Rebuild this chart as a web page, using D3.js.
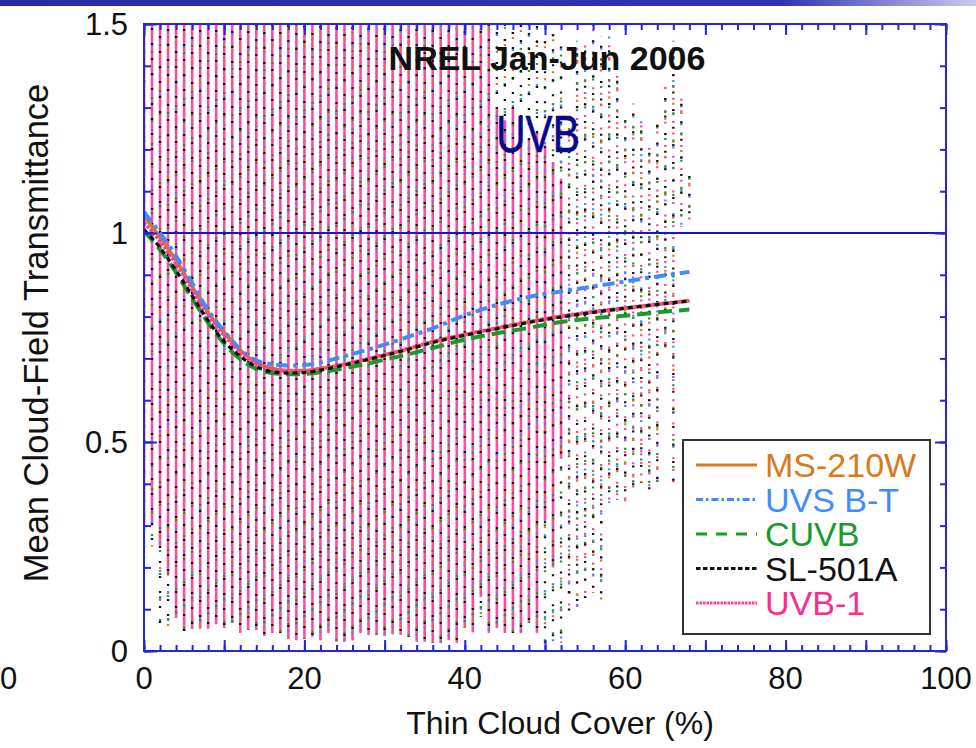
<!DOCTYPE html>
<html>
<head>
<meta charset="utf-8">
<script src="https://cdn.jsdelivr.net/npm/d3@7"></script>
<style>
  body { margin: 0; background: #fff; }
  svg { display: block; }
  text { font-family: "Liberation Sans", Arial, Helvetica, sans-serif; }
</style>
</head>
<body>
<svg id="chart" width="976" height="748"></svg>
<script>
// Thin-cloud-cover bins (percent) holding the individual transmittance samples
const coverBins = [0,1,2,3,4,5,6,7,8,9,10,11,12,13,14,15,16,17,18,19,20,21,22,23,24,25,26,27,28,29,30,
  31,32,33,34,35,36,37,38,39,40,41,42,43,44,45,46,47,48,49,50,51,52,53,54,55,56,57,58,59,60,
  61,62,63,64,65,66,67,68];
// Highest / lowest sample in each bin (all instruments)
const binTop = [1.5,1.5,1.5,1.5,1.5,1.5,1.5,1.5,1.5,1.5,1.5,1.5,1.5,1.5,1.5,1.5,1.5,1.5,1.5,1.5,1.5,
  1.5,1.5,1.5,1.5,1.5,1.5,1.5,1.5,1.5,1.5,1.5,1.5,1.5,1.5,1.5,1.5,1.5,1.5,1.5,1.5,
  1.5,1.5,1.5,1.5,1.5,1.5,1.5,1.5,1.5,1.48,1.48,1.47,1.30,1.46,1.45,1.5,1.47,1.47,1.38,1.27,
  1.31,1.28,1.21,1.26,1.35,1.46,1.33,1.14];
const binBottom = [0.22,0.25,0.06,0.057,0.079,0.048,0.053,0.053,0.053,0.064,0.055,0.067,0.043,0.05,0.05,
  0.036,0.043,0.043,0.029,0.026,0.029,0.034,0.026,0.043,0.022,0.022,0.026,0.043,0.038,0.038,0.036,
  0.04,0.038,0.034,0.022,0.022,0.019,0.019,0.026,0.019,0.055,0.045,0.082,0.043,0.055,0.043,0.043,
  0.043,0.067,0.043,0.019,0.022,0.019,0.09,0.093,0.122,0.139,0.117,0.354,0.361,0.357,
  0.39,0.402,0.385,0.395,0.72,0.404,1.015,1.03];
// Span where the UVB-1 samples are packed into a continuous band (null = scattered only)
const bandTop = [1.5,1.5,1.5,1.5,1.5,1.5,1.5,1.5,1.5,1.5,1.5,1.5,1.5,1.5,1.5,1.5,1.5,1.5,1.5,1.5,1.5,
  1.5,1.5,1.5,1.5,1.5,1.5,1.5,1.5,1.5,1.5,1.5,1.5,1.5,1.5,1.5,1.5,1.5,1.5,1.5,1.5,
  1.5,1.5,1.5,1.30,1.27,1.30,1.25,1.22,1.24,1.21,1.17,1.13,null,null,null,null,null,null,null,null,
  null,null,null,null,null,null,null,null];
const bandBottom = [0.30,0.30,0.25,0.18,0.079,0.048,0.053,0.053,0.053,0.064,0.055,0.067,0.043,0.05,0.05,
  0.036,0.043,0.043,0.029,0.026,0.029,0.034,0.026,0.043,0.022,0.022,0.026,0.043,0.038,0.038,0.036,
  0.04,0.038,0.034,0.022,0.022,0.019,0.019,0.026,0.019,0.055,0.045,0.13,0.043,0.055,0.043,0.043,
  0.043,0.067,0.043,0.31,0.20,0.46,null,null,null,null,null,null,null,null,
  null,null,null,null,null,null,null,null];

// Mean cloud-field transmittance per instrument
const meanCover = [0,2,4,6,8,10,12,14,16,18,20,22,24,27,30,33,36,40,44,48,52,56,60,64,68];
const ms210w = [1.04,0.99,0.935,0.872,0.81,0.762,0.72,0.69,0.676,0.671,0.671,0.676,0.682,0.694,0.708,0.723,0.74,0.757,0.772,0.787,0.80,0.811,0.82,0.829,0.838];
const uvsbt  = [1.05,1.0,0.945,0.88,0.815,0.765,0.722,0.695,0.686,0.683,0.684,0.69,0.70,0.716,0.733,0.752,0.772,0.803,0.828,0.847,0.86,0.872,0.884,0.896,0.907];
const cuvb   = [1.005,0.96,0.905,0.843,0.785,0.735,0.698,0.675,0.665,0.662,0.663,0.667,0.673,0.684,0.697,0.71,0.725,0.745,0.76,0.773,0.787,0.796,0.802,0.81,0.817];
const sl501a = [1.008,0.965,0.91,0.85,0.79,0.74,0.705,0.68,0.668,0.665,0.666,0.672,0.68,0.693,0.707,0.722,0.738,0.755,0.771,0.786,0.799,0.81,0.82,0.829,0.837];
const uvb1   = [1.025,0.98,0.925,0.865,0.80,0.755,0.715,0.688,0.675,0.67,0.67,0.675,0.682,0.695,0.709,0.724,0.74,0.757,0.773,0.788,0.801,0.812,0.821,0.83,0.838];

const seriesNames = ["MS-210W", "UVS B-T", "CUVB", "SL-501A", "UVB-1"];
const xTickLabels = [0, 20, 40, 60, 80, 100];
const yTickLabels = [0, 0.5, 1, 1.5];

const svg = d3.select("#chart");
const W = 976, H = 748;
const M = { left: 144, right: 946, top: 24, bottom: 651 };
const x = d3.scaleLinear().domain([0, 100]).range([M.left, M.right]);
const y = d3.scaleLinear().domain([0, 1.5]).range([M.bottom, M.top]);

const FRAME = "#2424e6";
const COL = { orange: "#d9781c", blue: "#3f8cff", green: "#1a9a28", black: "#111111", pink: "#ff3d9e" };

// slide header band
const defs = svg.append("defs");
const grad = defs.append("linearGradient").attr("id", "hdr").attr("x1", 0).attr("x2", 1);
grad.append("stop").attr("offset", "0%").attr("stop-color", "#2a2aa4");
grad.append("stop").attr("offset", "80%").attr("stop-color", "#3232b6");
grad.append("stop").attr("offset", "100%").attr("stop-color", "#c9c9ee");
svg.append("rect").attr("x", 0).attr("y", 0).attr("width", W).attr("height", 6).attr("fill", "url(#hdr)");

defs.append("clipPath").attr("id", "plotclip").append("rect")
  .attr("x", M.left).attr("y", M.top).attr("width", M.right - M.left).attr("height", M.bottom - M.top);

const plot = svg.append("g").attr("clip-path", "url(#plotclip)");

// individual samples: packed band plus scattered per-instrument dots
const bins = coverBins.map((c, i) => ({ c, i, top: binTop[i], bot: binBottom[i], bTop: bandTop[i], bBot: bandBottom[i] }));
plot.append("g").selectAll("line").data(bins.filter(d => d.bTop != null)).join("line")
  .attr("x1", d => x(d.c)).attr("x2", d => x(d.c))
  .attr("y1", d => y(d.bTop)).attr("y2", d => y(d.bBot))
  .attr("stroke", "#ff4aa6").attr("stroke-width", 2.6);

const dotStyles = [
  { color: COL.pink, gap: 6, shift: 1 },
  { color: COL.orange, gap: 30, shift: 5 },
  { color: COL.blue, gap: 26, shift: 9 },
  { color: COL.green, gap: 21, shift: 3 },
  { color: COL.black, gap: 13, shift: 0 }
];
dotStyles.forEach((s, k) => {
  plot.append("g").selectAll("line").data(bins).join("line")
    .attr("x1", d => x(d.c)).attr("x2", d => x(d.c))
    .attr("y1", d => y(d.top)).attr("y2", d => y(d.bot))
    .attr("stroke", s.color).attr("stroke-width", 2.3)
    .attr("stroke-dasharray", d => {
      const g = d.bTop != null ? s.gap : (k === 0 ? s.gap * 1.6 : s.gap * 1.2);
      return `2 ${g}`;
    })
    .attr("stroke-dashoffset", d => (d.i * 7 + s.shift * 3 + k) % 29)
    .attr("opacity", d => (k === 0 && d.bTop != null) ? 0 : 1);
});

// reference line at transmittance 1
plot.append("line")
  .attr("x1", M.left).attr("x2", M.right).attr("y1", y(1)).attr("y2", y(1))
  .attr("stroke", "#1414d8").attr("stroke-width", 2);

// mean curves
const series = [
  { name: seriesNames[0], vals: ms210w, color: COL.orange, dash: null, w: 3.5 },
  { name: seriesNames[2], vals: cuvb, color: COL.green, dash: "14 7", w: 4 },
  { name: seriesNames[1], vals: uvsbt, color: COL.blue, dash: "12 5 4 5", w: 4 },
  { name: seriesNames[4], vals: uvb1, color: COL.pink, dash: "3 1.5", w: 3.5 },
  { name: seriesNames[3], vals: sl501a, color: COL.black, dash: "5 4", w: 3.2 }
];
const line = d3.line().x(d => x(d[0])).y(d => y(d[1])).curve(d3.curveMonotoneX);
series.forEach(s => {
  plot.append("path").datum(meanCover.map((c, i) => [c, s.vals[i]]))
    .attr("d", line).attr("fill", "none")
    .attr("stroke", s.color).attr("stroke-width", s.w)
    .attr("stroke-dasharray", s.dash);
});

// frame and inward ticks on all four sides
function tickAxis(axisFn, scale, vals, len, transform) {
  const g = svg.append("g").attr("transform", transform)
    .call(axisFn(scale).tickValues(vals).tickSize(-len).tickFormat(""));
  g.select(".domain").remove();
  g.selectAll(".tick line").attr("stroke", FRAME).attr("stroke-width", 2);
}
const xMinor = x.ticks(50), xMajor = x.ticks(10);
const yMinor = y.ticks(15), yMajor = y.ticks(3);
tickAxis(d3.axisBottom, x, xMinor, 6, `translate(0,${M.bottom})`);
tickAxis(d3.axisBottom, x, xMajor, 11, `translate(0,${M.bottom})`);
tickAxis(d3.axisTop, x, xMinor, 6, `translate(0,${M.top})`);
tickAxis(d3.axisTop, x, xMajor, 11, `translate(0,${M.top})`);
tickAxis(d3.axisLeft, y, yMinor, 7, `translate(${M.left},0)`);
tickAxis(d3.axisLeft, y, yMajor, 13, `translate(${M.left},0)`);
tickAxis(d3.axisRight, y, yMinor, 6, `translate(${M.right},0)`);
tickAxis(d3.axisRight, y, yMajor, 11, `translate(${M.right},0)`);
svg.append("rect").attr("x", M.left).attr("y", M.top)
  .attr("width", M.right - M.left).attr("height", M.bottom - M.top)
  .attr("fill", "none").attr("stroke", FRAME).attr("stroke-width", 2);

// tick labels
svg.append("g").selectAll("text").data(xTickLabels).join("text")
  .attr("x", d => x(d)).attr("y", 689).attr("text-anchor", "middle")
  .attr("font-size", 31).attr("fill", "#111").text(d => d);
svg.append("g").selectAll("text").data(yTickLabels).join("text")
  .attr("x", 128).attr("y", d => y(d) + 11).attr("text-anchor", "end")
  .attr("font-size", 31).attr("fill", "#111").text(d => d);
// last digit of the neighbouring panel's axis label
svg.append("text").attr("x", 0).attr("y", 689).attr("text-anchor", "start")
  .attr("font-size", 31).attr("fill", "#111").text("0");

// axis titles
svg.append("text").attr("x", 560).attr("y", 734).attr("text-anchor", "middle")
  .attr("font-size", 32).attr("fill", "#111").text("Thin Cloud Cover (%)");
svg.append("text").attr("transform", "translate(48,333) rotate(-90)").attr("text-anchor", "middle")
  .attr("font-size", 34.5).attr("fill", "#111").text("Mean Cloud-Field Transmittance");

// titles inside the panel
svg.append("text").attr("x", 547).attr("y", 70).attr("text-anchor", "middle")
  .attr("font-size", 34).attr("font-weight", "bold").attr("fill", "#111").text("NREL Jan-Jun 2006");
svg.append("text").attr("transform", "translate(538,152) scale(0.78,1)").attr("text-anchor", "middle")
  .attr("font-size", 52).attr("fill", "#08088f").attr("stroke", "#08088f").attr("stroke-width", 0.6)
  .text("UVB");

// legend
const legend = svg.append("g");
legend.append("rect").attr("x", 683).attr("y", 440).attr("width", 247).attr("height", 194)
  .attr("fill", "#fff").attr("stroke", "#333").attr("stroke-width", 2);
const legendItems = [
  { name: seriesNames[0], color: COL.orange, dash: null },
  { name: seriesNames[1], color: COL.blue, dash: "7 3 2.5 3" },
  { name: seriesNames[2], color: COL.green, dash: "11 9" },
  { name: seriesNames[3], color: COL.black, dash: "4.5 2.5" },
  { name: seriesNames[4], color: COL.pink, dash: "2.5 1" }
];
legendItems.forEach((d, i) => {
  const base = 477 + i * 34.5;
  legend.append("line").attr("x1", 696).attr("x2", 757).attr("y1", base - 12).attr("y2", base - 12)
    .attr("stroke", d.color).attr("stroke-width", 3).attr("stroke-dasharray", d.dash);
  legend.append("text").attr("x", 765).attr("y", base).attr("font-size", 34)
    .attr("fill", d.color === COL.pink ? "#ff2a8e" : d.color).text(d.name);
});
</script>
</body>
</html>
